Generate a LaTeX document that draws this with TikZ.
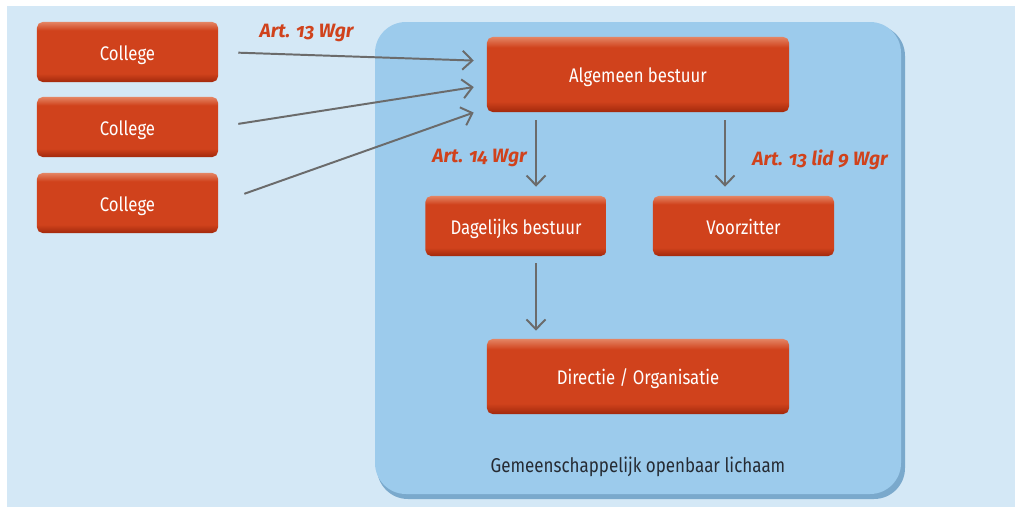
\documentclass[tikz,border=0pt]{standalone}
\usepackage{fontspec}
\setmainfont{Fira Sans}[FakeStretch=0.85,Numbers=OldStyle]
\newfontfamily\wgrfont{Fira Sans}[Numbers=OldStyle]
\usepackage{tikz}
\usetikzlibrary{arrows.meta}
\usetikzlibrary{positioning}
\definecolor{bgblue}{HTML}{D4E8F6}
\definecolor{panelblue}{HTML}{9CCBEC}
\definecolor{panelshade}{HTML}{7AA9CC}
\definecolor{boxred}{HTML}{D0421C}
\definecolor{boxtop}{HTML}{E48463}
\definecolor{boxbot}{HTML}{A2290C}
\definecolor{arrowgray}{HTML}{6B6B6B}
\definecolor{textdark}{HTML}{262B33}
\pgfdeclareverticalshading{orgshade}{100bp}{color(0bp)=(boxbot); color(25bp)=(boxbot);
  color(32bp)=(boxred); color(68bp)=(boxred); color(75bp)=(boxtop); color(100bp)=(boxtop)}
\tikzset{orgbox/.style = {rounded corners = 4pt, shading = orgshade, text = white,
    font = \fontsize{14}{16}\selectfont, text height = 11.5pt, text depth = 0pt,
    inner sep = 0, minimum width = 4.525cm, minimum height = 1.5cm}}
\tikzset{widebox/.style = {orgbox, minimum width = 7.55cm, minimum height = 1.875cm}}
\tikzset{arr/.style = {draw = arrowgray, line width = 1.4pt,
    -{Straight Barb[length = 7pt, width = 13.5pt, line width = 1.4pt]}}}
\tikzset{wgr/.style = {text = boxred, anchor = base, inner sep = 0,
    font = \wgrfont\fontsize{13.7}{16}\selectfont\bfseries\itshape}}

\begin{document}
\begin{tikzpicture}[x = 0.025cm, y = -0.025cm]
    \useasboundingbox (0, 0) rectangle (1015, 507);
    \fill [white] (0, 0) rectangle (1015, 507);
    \fill [bgblue] (7, 6) rectangle (1015, 507);

    % gemeenschappelijk openbaar lichaam
    \fill [panelshade, rounded corners = 22pt] (377, 25) rectangle (905, 499);
    \fill [panelblue, rounded corners = 22pt] (375, 22) rectangle (901, 494);
    \node (gol) at (638, 472) [anchor = base, text = textdark, font = \fontsize{14.2}{16}\selectfont] {Gemeenschappelijk openbaar lichaam};

    \node [orgbox] (col1) at (127.5, 52) {College};
    \node [orgbox] (col2) at (127.5, 127) {College};
    \node [orgbox] (col3) at (127.5, 203) {College};

    \node [widebox] (ab) at (638, 74.5) {Algemeen bestuur};
    \node [orgbox] (db) at (516, 226) {Dagelijks bestuur};
    \node [orgbox] (vz) at (743.5, 226) {Voorzitter};
    \node [widebox] (dir) at (638, 376.5) {Directie / Organisatie};

    \draw [arr, shorten <= 14.2pt, shorten >= 9.2pt] (col1.east) -- ([yshift = 9.6pt]ab.west);
    \draw [arr, shorten <= 14.4pt, shorten >= 9.3pt] (col2.east) -- ([yshift = -7.5pt]ab.west);
    \draw [arr, shorten <= 19.6pt, shorten >= 9.8pt] (col3.east) -- ([yshift = -23.8pt]ab.west);

    \draw [arr, shorten <= 5.7pt, shorten >= 6.4pt] ([xshift = -72.5pt]ab.south) -- ([xshift = -72.5pt]ab.south |- db.north);
    \draw [arr, shorten <= 5.7pt, shorten >= 6.4pt] ([xshift = 61.9pt]ab.south) -- ([xshift = 61.9pt]ab.south |- vz.north);
    \draw [arr, shorten <= 5pt, shorten >= 5.7pt] ([xshift = 14.2pt]db.south) -- ([xshift = 14.2pt]db.south |- dir.north);

    \node [wgr] (art13) at (306.5, 37) {Art. 13 Wgr};
    \node [wgr, anchor = base east] (art14) at (527, 162) {Art. 14 Wgr};
    \node [wgr, anchor = base east] (art13l9) at (888, 165) {Art. 13 lid 9 Wgr};
\end{tikzpicture}
\end{document}
